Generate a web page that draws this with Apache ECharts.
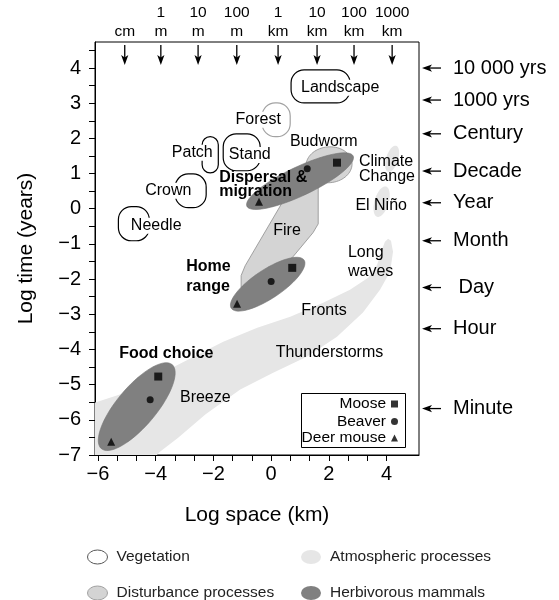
<!DOCTYPE html>
<html><head><meta charset="utf-8">
<script src="https://cdn.jsdelivr.net/npm/echarts@6/dist/echarts.min.js"></script>
<style>html,body{margin:0;padding:0;background:#fff}#c{width:559px;height:600px}</style>
</head><body><div id="c"></div>
<script>
const FONT = 'Liberation Sans, Arial, Helvetica, sans-serif';

// ---- axes ----
const X_MIN = -6.1, X_MAX = 5.12, Y_MIN = -7, Y_MAX = 4.74;
const xLabelValues = [-6, -4, -2, 0, 2, 4];
const xTickValues = [-6, -5.333, -4.667, -4, -3.333, -2.667, -2, -1.333, -0.667, 0, 0.667, 1.333, 2, 2.667, 3.333, 4];
const yLabelValues = [-7, -6, -5, -4, -3, -2, -1, 0, 1, 2, 3, 4];
const yTickValues = [-7, -6.5, -6, -5.5, -5, -4.5, -4, -3.5, -3, -2.5, -2, -1.5, -1, -0.5, 0, 0.5, 1, 1.5, 2, 2.5, 3, 3.5, 4, 4.5];

// ---- top space scale (log km) ----
const spaceLabels = ['cm', '1\nm', '10\nm', '100\nm', '1\nkm', '10\nkm', '100\nkm', '1000\nkm'];
const spaceX = [-5.07, -3.82, -2.53, -1.19, 0.24, 1.59, 2.87, 4.19];

// ---- right time scale (log years) ----
const timeLabels = ['10 000 yrs', '1000 yrs', 'Century', 'Decade', 'Year', 'Month', ' Day', 'Hour', 'Minute'];
const timeY = [4.0, 3.09, 2.13, 1.07, 0.17, -0.91, -2.24, -3.41, -5.68];

// ---- atmospheric processes ----
const atmBand = [
  [-6.44, -5.60], [-6.09, -5.51], [-4.71, -5.14], [-3.43, -4.52], [-1.66, -3.78], [-0.48, -3.38],
  [0.66, -3.07], [1.80, -2.67], [2.73, -2.30], [3.36, -1.96], [3.67, -1.59], [3.84, -1.16],
  [3.94, -0.94], [4.05, -0.85], [4.15, -0.91], [4.22, -1.22], [4.12, -1.79], [3.77, -2.30],
  [3.18, -2.95], [2.28, -3.64], [1.25, -4.20], [0.07, -4.66], [-1.07, -5.14], [-2.28, -5.85],
  [-3.22, -6.51], [-3.84, -6.90], [-4.19, -7.19], [-6.44, -7.19]
];
// tilted blobs: [x1, y1, x2, y2, halfWidth]
const atmBlobs = [
  [4.33, 1.79, 4.05, 1.05, 0.17],   // Climate change
  [3.98, 0.63, 3.67, -0.23, 0.20]   // El Niño
];

// ---- disturbance processes ----
const firePoly = [
  [0.38, 0.31], [1.00, 0.82], [1.63, 0.82], [1.63, -0.43], [1.45, -0.68], [0.73, -1.39],
  [-0.03, -1.79], [-0.90, -2.30], [-1.04, -2.24], [-1.04, -1.90], [-0.90, -1.62], [0.38, 0.17]
];
const budworm = [[1.21, 1.19, 2.80, 1.31, 0.51]];

// ---- vegetation: [xLeft, xRight, yBottom, yTop] ----
const vegNames = ['Landscape', 'Forest', 'Stand', 'Patch', 'Crown', 'Needle'];
const vegBoxes = [
  [0.69, 2.73, 3.01, 3.95],
  [-0.31, 0.66, 2.05, 3.01],
  [-1.66, -0.38, 1.08, 2.13],
  [-2.39, -1.83, 1.02, 2.05],
  [-3.32, -2.25, 0.03, 0.99],
  [-5.29, -4.22, -0.91, 0.06]
];
const vegLabelPos = [[2.39, 3.44], [-0.45, 2.53], [-0.74, 1.53], [-2.73, 1.59], [-3.56, 0.51], [-3.98, -0.48]];

// ---- herbivorous mammals: [x1, y1, x2, y2, halfWidth] ----
const mammalEllipses = [
  [-0.84, 0.07, 2.84, 1.50, 0.41],   // Dispersal & migration
  [-1.38, -2.83, 1.14, -1.46, 0.41], // Home range
  [-5.88, -6.82, -3.43, -4.43, 0.56] // Food choice
];
const moose = [[2.28, 1.31], [0.73, -1.68], [-3.91, -4.77]];
const beaver = [[1.25, 1.14], [0.0, -2.07], [-4.19, -5.43]];
const deerMouse = [[-0.42, 0.20], [-1.18, -2.70], [-5.54, -6.62]];

// ---- annotations ----
const processText = ['Budworm', 'Fire', 'Breeze', 'Thunderstorms', 'Fronts', 'El Niño'];
const processTextPos = [[1.82, 1.90], [0.55, -0.63], [-2.28, -5.37], [2.02, -4.09], [1.83, -2.90], [3.81, 0.09]];
const processTextLeft = ['Long\nwaves', 'Climate\nChange'];
const processTextLeftPos = [[2.66, -1.52], [3.04, 1.12]];
const mammalText = ['Dispersal &\nmigration', 'Home\nrange', 'Food choice'];
const mammalTextPos = [[-1.80, 0.68], [-2.94, -1.93], [-3.63, -4.12]];

// ---- styling helpers ----
const C_ATM = '#e6e6e6', C_DIST = '#d4d4d4', C_DIST_LINE = '#8e8e8e', C_MAM = '#808080';
const leftTextLineHeight = [19, 15];
const mammalAlign = ['left', 'left', 'center'];
const mammalLineHeight = [14, 20, 18];

function ellipsePoints(api, e) {
  const a = api.coord([e[0], e[1]]), b = api.coord([e[2], e[3]]);
  const hw = Math.abs(api.size([0, e[4]])[1]);
  const cx = (a[0] + b[0]) / 2, cy = (a[1] + b[1]) / 2;
  const dx = b[0] - a[0], dy = b[1] - a[1];
  const L = Math.hypot(dx, dy) / 2;
  const ux = dx / (2 * L), uy = dy / (2 * L);
  const pts = [];
  for (let k = 0; k < 72; k++) {
    const t = k / 72 * 2 * Math.PI;
    const c = Math.cos(t) * L, s = Math.sin(t) * hw;
    pts.push([cx + ux * c - uy * s, cy + uy * c + ux * s]);
  }
  return pts;
}
function ellipseRender(style) {
  return function (params, api) {
    const e = [api.value(0), api.value(1), api.value(2), api.value(3), api.value(4)];
    return { type: 'polygon', shape: { points: ellipsePoints(api, e) }, style: style };
  };
}
function polyRender(points, style) {
  return function (params, api) {
    if (params.dataIndex !== 0) return null;
    return { type: 'polygon', shape: { points: points.map(p => api.coord(p)) }, style: style };
  };
}
function textSeries(texts, positions, styleFn, z) {
  return {
    type: 'custom', silent: true, clip: false, z: z,
    data: positions.map((p, i) => [p[0], p[1], i]),
    renderItem: function (params, api) {
      const i = api.value(2);
      const pt = api.coord([api.value(0), api.value(1)]);
      return { type: 'text', x: pt[0], y: pt[1], style: Object.assign({ text: texts[i], fill: '#000', fontFamily: FONT, fontSize: 16, align: 'center', verticalAlign: 'middle' }, styleFn(i)) };
    }
  };
}

const ELLIPSE_ICON = 'path://M0,7A10,7,0,1,1,20,7A10,7,0,1,1,0,7Z';
const legendCommon = { orient: 'horizontal', padding: 0, itemWidth: 28, itemHeight: 14, selectedMode: false, textStyle: { fontSize: 15.5, color: '#222', fontFamily: FONT } };
const speciesCommon = { orient: 'horizontal', align: 'right', padding: 0, itemWidth: 7, itemHeight: 7, selectedMode: false, right: 161, z: 9, textStyle: { fontSize: 15.5, color: '#000', fontFamily: FONT } };

const chart = echarts.init(document.getElementById('c'), null, { renderer: 'canvas' });
const minus = v => String(v).replace('-', '\u2212');

chart.setOption({
  animation: false,
  textStyle: { fontFamily: FONT },
  grid: { left: 95, right: 140, top: 42, bottom: 145, show: true, borderColor: '#000', borderWidth: 1, backgroundColor: 'transparent' },
  xAxis: {
    type: 'value', min: X_MIN, max: X_MAX,
    name: 'Log space (km)', nameLocation: 'middle', nameGap: 50,
    nameTextStyle: { fontSize: 21, color: '#000', fontFamily: FONT },
    axisLine: { show: true, onZero: false, lineStyle: { color: '#000', width: 1 } },
    axisTick: { show: true, length: 6, lineStyle: { color: '#000' }, customValues: xTickValues },
    axisLabel: { fontSize: 20, color: '#000', margin: 9, fontFamily: FONT, customValues: xLabelValues, formatter: minus },
    splitLine: { show: false }
  },
  yAxis: {
    type: 'value', min: Y_MIN, max: Y_MAX,
    name: 'Log time (years)', nameLocation: 'middle', nameGap: 58, nameRotate: 90,
    nameTextStyle: { fontSize: 21, color: '#000', fontFamily: FONT },
    axisLine: { show: true, onZero: false, lineStyle: { color: '#000', width: 1 } },
    axisTick: { show: true, length: 6, lineStyle: { color: '#000' }, customValues: yTickValues },
    axisLabel: { fontSize: 20, color: '#000', margin: 14, fontFamily: FONT, customValues: yLabelValues, formatter: minus },
    splitLine: { show: false }
  },
  legend: [
    Object.assign({ data: [{ name: 'Vegetation', icon: ELLIPSE_ICON, itemStyle: { color: '#fff', borderColor: '#555', borderWidth: 1 } }], left: 87, top: 549 }, legendCommon),
    Object.assign({ data: [{ name: 'Atmospheric processes', icon: ELLIPSE_ICON, itemStyle: { color: C_ATM, borderWidth: 0 } }], left: 301, top: 549 }, legendCommon),
    Object.assign({ data: [{ name: 'Disturbance processes', icon: ELLIPSE_ICON, itemStyle: { color: C_DIST, borderColor: '#a0a0a0', borderWidth: 1 } }], left: 87, top: 585 }, legendCommon),
    Object.assign({ data: [{ name: 'Herbivorous mammals', icon: ELLIPSE_ICON, itemStyle: { color: C_MAM, borderWidth: 0 } }], left: 301, top: 585 }, legendCommon),
    Object.assign({ data: [{ name: 'Moose', icon: 'rect' }], top: 396 }, speciesCommon),
    Object.assign({ data: [{ name: 'Beaver', icon: 'circle' }], top: 413.5 }, speciesCommon),
    Object.assign({ data: [{ name: 'Deer mouse', icon: 'triangle' }], top: 430 }, speciesCommon)
  ],
  graphic: [
    { type: 'rect', left: 301, top: 393, z: 8, shape: { width: 104, height: 54 }, style: { fill: '#fff', stroke: '#000', lineWidth: 1 } }
  ],
  series: [
    { type: 'custom', name: 'Atmospheric processes', clip: true, z: 1, silent: true, data: atmBand, itemStyle: { color: C_ATM },
      renderItem: polyRender(atmBand, { fill: C_ATM }) },
    { type: 'custom', name: 'Atmospheric processes', clip: true, z: 1, silent: true, data: atmBlobs, itemStyle: { color: C_ATM },
      renderItem: ellipseRender({ fill: C_ATM }) },
    { type: 'custom', name: 'Disturbance processes', clip: true, z: 2, silent: true, data: firePoly, itemStyle: { color: C_DIST },
      renderItem: polyRender(firePoly, { fill: C_DIST, stroke: C_DIST_LINE, lineWidth: 0.8 }) },
    { type: 'custom', name: 'Disturbance processes', clip: true, z: 2, silent: true, data: budworm, itemStyle: { color: C_DIST },
      renderItem: ellipseRender({ fill: C_DIST, stroke: C_DIST_LINE, lineWidth: 0.8 }) },
    { type: 'custom', name: 'Vegetation', clip: true, z: 3, silent: true, data: vegBoxes.map((b, i) => b.concat([i])), itemStyle: { color: '#fff' },
      renderItem: function (params, api) {
        const p1 = api.coord([api.value(0), api.value(3)]);
        const p2 = api.coord([api.value(1), api.value(2)]);
        const w = p2[0] - p1[0], h = p2[1] - p1[1];
        const r = Math.min(13, w / 2, h / 2);
        const gray = vegNames[api.value(4)] === 'Forest';
        return { type: 'rect', shape: { x: p1[0], y: p1[1], width: w, height: h, r: r },
          style: { fill: 'none', stroke: gray ? '#a3a3a3' : '#000', lineWidth: 1.2 } };
      } },
    { type: 'custom', name: 'Herbivorous mammals', clip: true, z: 4, silent: true, data: mammalEllipses, itemStyle: { color: C_MAM },
      renderItem: ellipseRender({ fill: C_MAM, stroke: '#747474', lineWidth: 0.6 }) },
    { type: 'scatter', name: 'Moose', z: 5, silent: true, symbol: 'rect', symbolSize: 8, itemStyle: { color: '#000' }, data: moose },
    { type: 'scatter', name: 'Beaver', z: 5, silent: true, symbol: 'circle', symbolSize: 7, itemStyle: { color: '#000' }, data: beaver },
    { type: 'scatter', name: 'Deer mouse', z: 5, silent: true, symbol: 'triangle', symbolSize: 8, itemStyle: { color: '#000' }, data: deerMouse },
    textSeries(vegNames, vegLabelPos, () => ({ backgroundColor: '#fff', padding: [0, 1] }), 6),
    textSeries(processText, processTextPos, () => ({}), 6),
    textSeries(processTextLeft, processTextLeftPos, i => ({ align: 'left', lineHeight: leftTextLineHeight[i] }), 6),
    textSeries(mammalText, mammalTextPos, i => ({ fontWeight: 'bold', align: mammalAlign[i], lineHeight: mammalLineHeight[i] }), 6),
    { type: 'custom', silent: true, clip: false, z: 6,
      data: spaceX.map((x, i) => [x, Y_MAX, i]),
      renderItem: function (params, api) {
        const cs = params.coordSys;
        const x = api.coord([api.value(0), api.value(1)])[0];
        const top = cs.y;
        return { type: 'group', children: [
          { type: 'line', shape: { x1: x, y1: top + 3, x2: x, y2: top + 17 }, style: { stroke: '#000', lineWidth: 1.3 } },
          { type: 'polygon', shape: { points: [[x, top + 23], [x - 3.6, top + 13], [x, top + 15.5], [x + 3.6, top + 13]] }, style: { fill: '#000' } },
          { type: 'text', x: x, y: top - 0.5, style: { text: spaceLabels[api.value(2)], fill: '#000', fontFamily: FONT, fontSize: 15.5, align: 'center', verticalAlign: 'bottom', lineHeight: 19 } }
        ] };
      } },
    { type: 'custom', silent: true, clip: false, z: 6,
      data: timeY.map((y, i) => [X_MAX, y, i]),
      renderItem: function (params, api) {
        const cs = params.coordSys;
        const y = api.coord([api.value(0), api.value(1)])[1];
        const R = cs.x + cs.width;
        return { type: 'group', children: [
          { type: 'line', shape: { x1: R + 22, y1: y, x2: R + 8, y2: y }, style: { stroke: '#000', lineWidth: 1.3 } },
          { type: 'polygon', shape: { points: [[R + 3, y], [R + 13, y - 3.6], [R + 10.5, y], [R + 13, y + 3.6]] }, style: { fill: '#000' } },
          { type: 'text', x: R + 34, y: y, style: { text: timeLabels[api.value(2)], fill: '#000', fontFamily: FONT, fontSize: 20, align: 'left', verticalAlign: 'middle' } }
        ] };
      } }
  ]
});
</script>
</body></html>
